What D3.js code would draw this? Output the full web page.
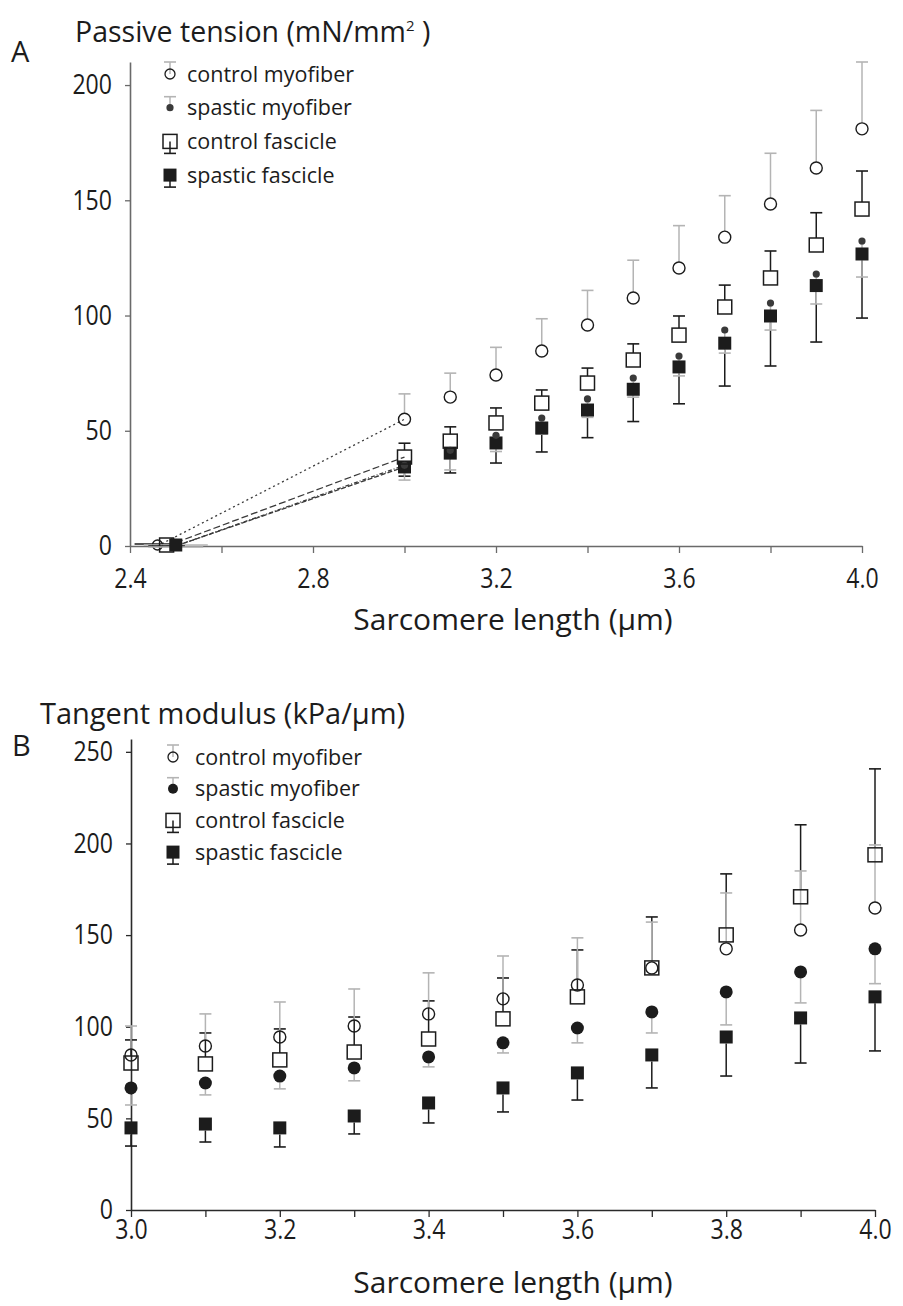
<!DOCTYPE html>
<html>
<head>
<meta charset="utf-8">
<script src="https://cdn.jsdelivr.net/npm/d3@7"></script>
<style>
  body { margin: 0; background: #fff; }
  svg text { font-family: "Open Sans", "Noto Sans", sans-serif; fill: #1c1c1c; }
</style>
</head>
<body>
<svg id="fig" width="903" height="1306"></svg>
<script>
// ---- Data -------------------------------------------------------------
// Sarcomere lengths (µm) at which both panels were sampled
const sarcomereLengths = [3.0, 3.1, 3.2, 3.3, 3.4, 3.5, 3.6, 3.7, 3.8, 3.9, 4.0];

// Panel A: passive tension (mN/mm²), mean and SD
const tensionCtrlFiber   = [55, 64.6, 74.2, 84.6, 95.9, 107.6, 120.6, 134, 148.4, 164, 181];
const tensionCtrlFiberSD = [11, 10.4, 12, 14, 15, 16.4, 18.4, 18, 22, 25, 29];
const tensionSpasFiber   = [35, 41.5, 48, 55.5, 63.8, 72.9, 82.4, 93.7, 105.4, 118, 132.3];
const tensionSpasFiberSD = [6.4, 8.5, 7, 7, 8, 8.3, 8.6, 10, 11.7, 13, 15.6];
const tensionCtrlFasc    = [38.6, 45.5, 53.4, 62, 70.7, 80.7, 91.5, 103.7, 116.3, 130.6, 146.2];
const tensionCtrlFascSD  = [6, 6.2, 6.5, 5.7, 6.5, 7, 8.3, 9.5, 11.7, 14, 16.5];
const tensionSpasFasc    = [34.3, 40.3, 44.7, 51.2, 59, 68, 77.7, 88, 99.8, 113, 126.7];
const tensionSpasFascSD  = [4, 8.6, 8.7, 10.4, 12, 14, 16, 18.6, 21.7, 24.5, 27.8];

// Panel A: slack length (zero-tension point) of each group, mean and SD (µm)
const slackLength   = [2.46, 2.50, 2.48, 2.50];
const slackLengthSD = [0.05, 0.07, 0.04, 0.06];

// Panel B: tangent modulus (kPa/µm), mean and SD
const modulusCtrlFiber   = [84.6, 89.5, 94.4, 100.4, 107, 115.2, 122.8, 132.1, 142.5, 152.8, 164.8];
const modulusCtrlFiberSD = [15.8, 17.5, 19.1, 20.2, 22.4, 23.4, 25.7, 25, 30.5, 32.2, 34.4];
const modulusSpasFiber   = [66.6, 69.3, 73.1, 77.5, 83.5, 91.2, 99.3, 108.1, 119, 129.9, 142.5];
const modulusSpasFiberSD = [9.3, 6.5, 7, 7, 5.4, 5.5, 8.1, 11.5, 18, 16.9, 19];
const modulusCtrlFasc    = [80.2, 79.7, 81.9, 86.2, 93.3, 104.3, 116.3, 132.1, 150.1, 170.9, 193.8];
const modulusCtrlFascSD  = [12.6, 16.9, 16.9, 19.1, 20.8, 22.3, 25.6, 27.8, 33.3, 39.3, 46.9];
const modulusSpasFasc    = [44.8, 46.9, 44.8, 51.3, 58.4, 66.6, 74.8, 84.6, 94.4, 104.8, 116.3];
const modulusSpasFascSD  = [9.9, 9.8, 10.4, 9.8, 10.9, 13.1, 14.8, 18, 21.3, 24.6, 29.5];

// Group names and axis ticks
const groupNames   = ["control myofiber", "spastic myofiber", "control fascicle", "spastic fascicle"];
const tensionTicks = [0, 50, 100, 150, 200];
const modulusTicks = [0, 50, 100, 150, 200, 250];
const lengthTicksA = [2.4, 2.6, 2.8, 3.0, 3.2, 3.4, 3.6, 3.8, 4.0];
const lengthTicksB = [3.0, 3.1, 3.2, 3.3, 3.4, 3.5, 3.6, 3.7, 3.8, 3.9, 4.0];

// ---- Drawing ----------------------------------------------------------
const svg = d3.select("#fig");
const GRAY = "#b4b4b4", INK = "#1c1c1c";
const TICK_SQUEEZE = 0.84;   // tall, narrow tick numerals

function marker(g, kind, cx, cy) {
  if (kind === "circleOpen") {
    g.append("circle").attr("cx", cx).attr("cy", cy).attr("r", 6)
      .attr("fill", "none").attr("stroke", INK).attr("stroke-width", 1.4);
  } else if (kind === "circleOpenSmall") {
    g.append("circle").attr("cx", cx).attr("cy", cy).attr("r", 5)
      .attr("fill", "none").attr("stroke", INK).attr("stroke-width", 1.3);
  } else if (kind === "dotSmall") {
    g.append("circle").attr("cx", cx).attr("cy", cy).attr("r", 3.6).attr("fill", "#3a3a3a");
  } else if (kind === "dotMedium") {
    g.append("circle").attr("cx", cx).attr("cy", cy).attr("r", 5).attr("fill", INK);
  } else if (kind === "dotLarge") {
    g.append("circle").attr("cx", cx).attr("cy", cy).attr("r", 6.5).attr("fill", INK);
  } else if (kind === "squareOpen") {
    g.append("rect").attr("x", cx - 7).attr("y", cy - 7).attr("width", 14).attr("height", 14)
      .attr("fill", "none").attr("stroke", INK).attr("stroke-width", 1.5);
  } else if (kind === "squareFilled") {
    g.append("rect").attr("x", cx - 6.5).attr("y", cy - 6.5).attr("width", 13).attr("height", 13)
      .attr("fill", INK);
  }
}

function errorBar(g, x, y0, y1, color) {
  g.append("line").attr("x1", x).attr("x2", x).attr("y1", y0).attr("y2", y1)
    .attr("stroke", color).attr("stroke-width", 1.5);
  g.append("line").attr("x1", x - 6).attr("x2", x + 6).attr("y1", y1).attr("y2", y1)
    .attr("stroke", color).attr("stroke-width", 1.6);
}

function drawPanel(cfg) {
  const g = svg.append("g");
  const { x, y } = cfg;

  // axes
  const yAxis = g.append("g").attr("transform", `translate(${x.range()[0]},0)`)
    .call(d3.axisLeft(y).tickValues(cfg.yTicks).tickSize(5).tickPadding(13).tickSizeOuter(0));
  const xAxis = g.append("g").attr("transform", `translate(0,${y.range()[0]})`)
    .call(d3.axisBottom(x).tickValues(cfg.xTicks).tickSize(7).tickPadding(cfg.xPad)
      .tickSizeOuter(0).tickFormat(cfg.xFormat));
  [yAxis, xAxis].forEach(a => {
    a.select(".domain").attr("stroke", cfg.axisColor).attr("stroke-width", 1.6);
    a.selectAll(".tick line").attr("stroke", cfg.axisColor).attr("stroke-width", 1.3);
    a.selectAll(".tick text").attr("font-size", 27.5).attr("font-family", null).attr("fill", INK)
      .attr("transform", `scale(${TICK_SQUEEZE},1)`);
  });
  yAxis.selectAll(".tick text").attr("x", -18 / TICK_SQUEEZE);

  // panel letter, y title, x title
  g.append("text").attr("x", cfg.letterX).attr("y", cfg.letterY).attr("font-size", 29).text(cfg.letter);
  const t = g.append("text").attr("x", cfg.titleX).attr("y", cfg.titleY).attr("font-size", cfg.titleSize);
  cfg.title(t);
  g.append("text").attr("x", 513).attr("y", cfg.xTitleY).attr("text-anchor", "middle")
    .attr("font-size", 30).text("Sarcomere length (µm)");

  // connecting lines (panel A only)
  if (cfg.links) cfg.links(g);

  // error bars then markers, series by series
  cfg.series.forEach(s => {
    const eg = g.append("g");
    s.mean.forEach((m, i) => {
      const cx = x(s.xs[i]);
      const cy = y(m);
      const start = cy - s.dir * s.gap;
      const end = y(m + s.dir * s.sd[i]);
      errorBar(eg, cx, start, end, s.errColor);
    });
  });
  cfg.series.forEach(s => {
    const mg = g.append("g");
    s.mean.forEach((m, i) => marker(mg, s.marker, x(s.xs[i]), y(m)));
  });

  // legend
  const lg = g.append("g");
  cfg.legend.forEach((l, i) => {
    const ly = cfg.legendY + i * cfg.legendStep;
    errorBar(lg, cfg.legendX, ly, ly + l.errLen, l.errColor);
    marker(lg, l.marker, cfg.legendX, ly);
    lg.append("text").attr("x", cfg.legendX + cfg.legendTextDx).attr("y", ly).attr("dy", "0.36em")
      .attr("font-size", 21.5).text(groupNames[i]);
  });
}

// ---- Panel A ----------------------------------------------------------
const xA = d3.scaleLinear().domain([2.4, 4.0]).range([130, 862]);
const yA = d3.scaleLinear().domain([0, 210]).range([546, 62]);

const seriesA = [
  { mean: tensionSpasFasc,  sd: tensionSpasFascSD,  dir: -1, gap: 6.5, errColor: INK,  marker: "squareFilled" },
  { mean: tensionSpasFiber, sd: tensionSpasFiberSD, dir: -1, gap: 3.6, errColor: GRAY, marker: "dotSmall" },
  { mean: tensionCtrlFasc,  sd: tensionCtrlFascSD,  dir: 1,  gap: 7,   errColor: INK,  marker: "squareOpen" },
  { mean: tensionCtrlFiber, sd: tensionCtrlFiberSD, dir: 1,  gap: 6,   errColor: GRAY, marker: "circleOpen" }
];
seriesA.forEach(s => s.xs = sarcomereLengths);

// first measured point of each group, in groupNames order
const firstTension = [tensionCtrlFiber[0], tensionSpasFiber[0], tensionCtrlFasc[0], tensionSpasFasc[0]];
const slackMarkers = ["circleOpenSmall", "dotSmall", "squareOpen", "squareFilled"];
const linkDash = ["2,3", "4,2,1,2", "7,3", "5,2"];

drawPanel({
  x: xA, y: yA, yTicks: tensionTicks, xTicks: lengthTicksA, xPad: 15, axisColor: "#6a6a6a",
  xFormat: d => (Math.round(d * 10) % 4 === 0 ? d.toFixed(1) : ""),
  letter: "A", letterX: 11, letterY: 62,
  titleX: 75, titleY: 42, titleSize: 28.5,
  title: t => {
    t.append("tspan").text("Passive tension (mN/mm");
    t.append("tspan").attr("font-size", 15).attr("dy", -11).text("2");
    t.append("tspan").attr("dy", 11).text(" )");
  },
  xTitleY: 630,
  links: g => {
    const line = d3.line().x(d => xA(d[0])).y(d => yA(d[1]));
    groupNames.forEach((n, i) => {
      g.append("path").attr("d", line([[slackLength[i], 0], [sarcomereLengths[0], firstTension[i]]]))
        .attr("fill", "none").attr("stroke", "#3a3a3a").attr("stroke-width", 1.3)
        .attr("stroke-dasharray", linkDash[i]);
    });
    // slack-length points with their horizontal SD
    groupNames.forEach((n, i) => {
      const cy = yA(0);
      g.append("line").attr("x1", xA(slackLength[i] - slackLengthSD[i])).attr("x2", xA(slackLength[i] + slackLengthSD[i]))
        .attr("y1", cy - 2 + i).attr("y2", cy - 2 + i).attr("stroke", i % 2 ? GRAY : INK).attr("stroke-width", 1.4);
      marker(g, slackMarkers[i], xA(slackLength[i]), cy - 1);
    });
  },
  series: seriesA,
  legendX: 170, legendY: 74, legendStep: 33.7, legendTextDx: 17,
  legend: [
    { marker: "circleOpenSmall", errLen: -12, errColor: GRAY },
    { marker: "dotSmall",        errLen: -11, errColor: GRAY },
    { marker: "squareOpen",      errLen: 12,  errColor: INK },
    { marker: "squareFilled",    errLen: 12,  errColor: INK }
  ]
});

// ---- Panel B ----------------------------------------------------------
const xB = d3.scaleLinear().domain([3.0, 4.0]).range([131, 875]);
const yB = d3.scaleLinear().domain([0, 257]).range([1210, 739]);

const seriesB = [
  { mean: modulusSpasFasc,  sd: modulusSpasFascSD,  dir: -1, gap: 6.5, errColor: INK,  marker: "squareFilled" },
  { mean: modulusSpasFiber, sd: modulusSpasFiberSD, dir: -1, gap: 6.5, errColor: GRAY, marker: "dotLarge" },
  { mean: modulusCtrlFasc,  sd: modulusCtrlFascSD,  dir: 1,  gap: 7,   errColor: INK,  marker: "squareOpen" },
  { mean: modulusCtrlFiber, sd: modulusCtrlFiberSD, dir: 1,  gap: 6,   errColor: GRAY, marker: "circleOpen" }
];
seriesB.forEach(s => s.xs = sarcomereLengths);

drawPanel({
  x: xB, y: yB, yTicks: modulusTicks, xTicks: lengthTicksB, xPad: 2, axisColor: "#2a2a2a",
  xFormat: d => (Math.round(d * 10) % 2 === 0 ? d.toFixed(1) : ""),
  letter: "B", letterX: 12, letterY: 756,
  titleX: 40, titleY: 724, titleSize: 29,
  title: t => t.text("Tangent modulus (kPa/µm)"),
  xTitleY: 1293,
  series: seriesB,
  legendX: 173, legendY: 757, legendStep: 31.7, legendTextDx: 22,
  legend: [
    { marker: "circleOpenSmall", errLen: -12, errColor: GRAY },
    { marker: "dotMedium",       errLen: -11, errColor: GRAY },
    { marker: "squareOpen",      errLen: 12,  errColor: INK },
    { marker: "squareFilled",    errLen: 12,  errColor: INK }
  ]
});
</script>
</body>
</html>
